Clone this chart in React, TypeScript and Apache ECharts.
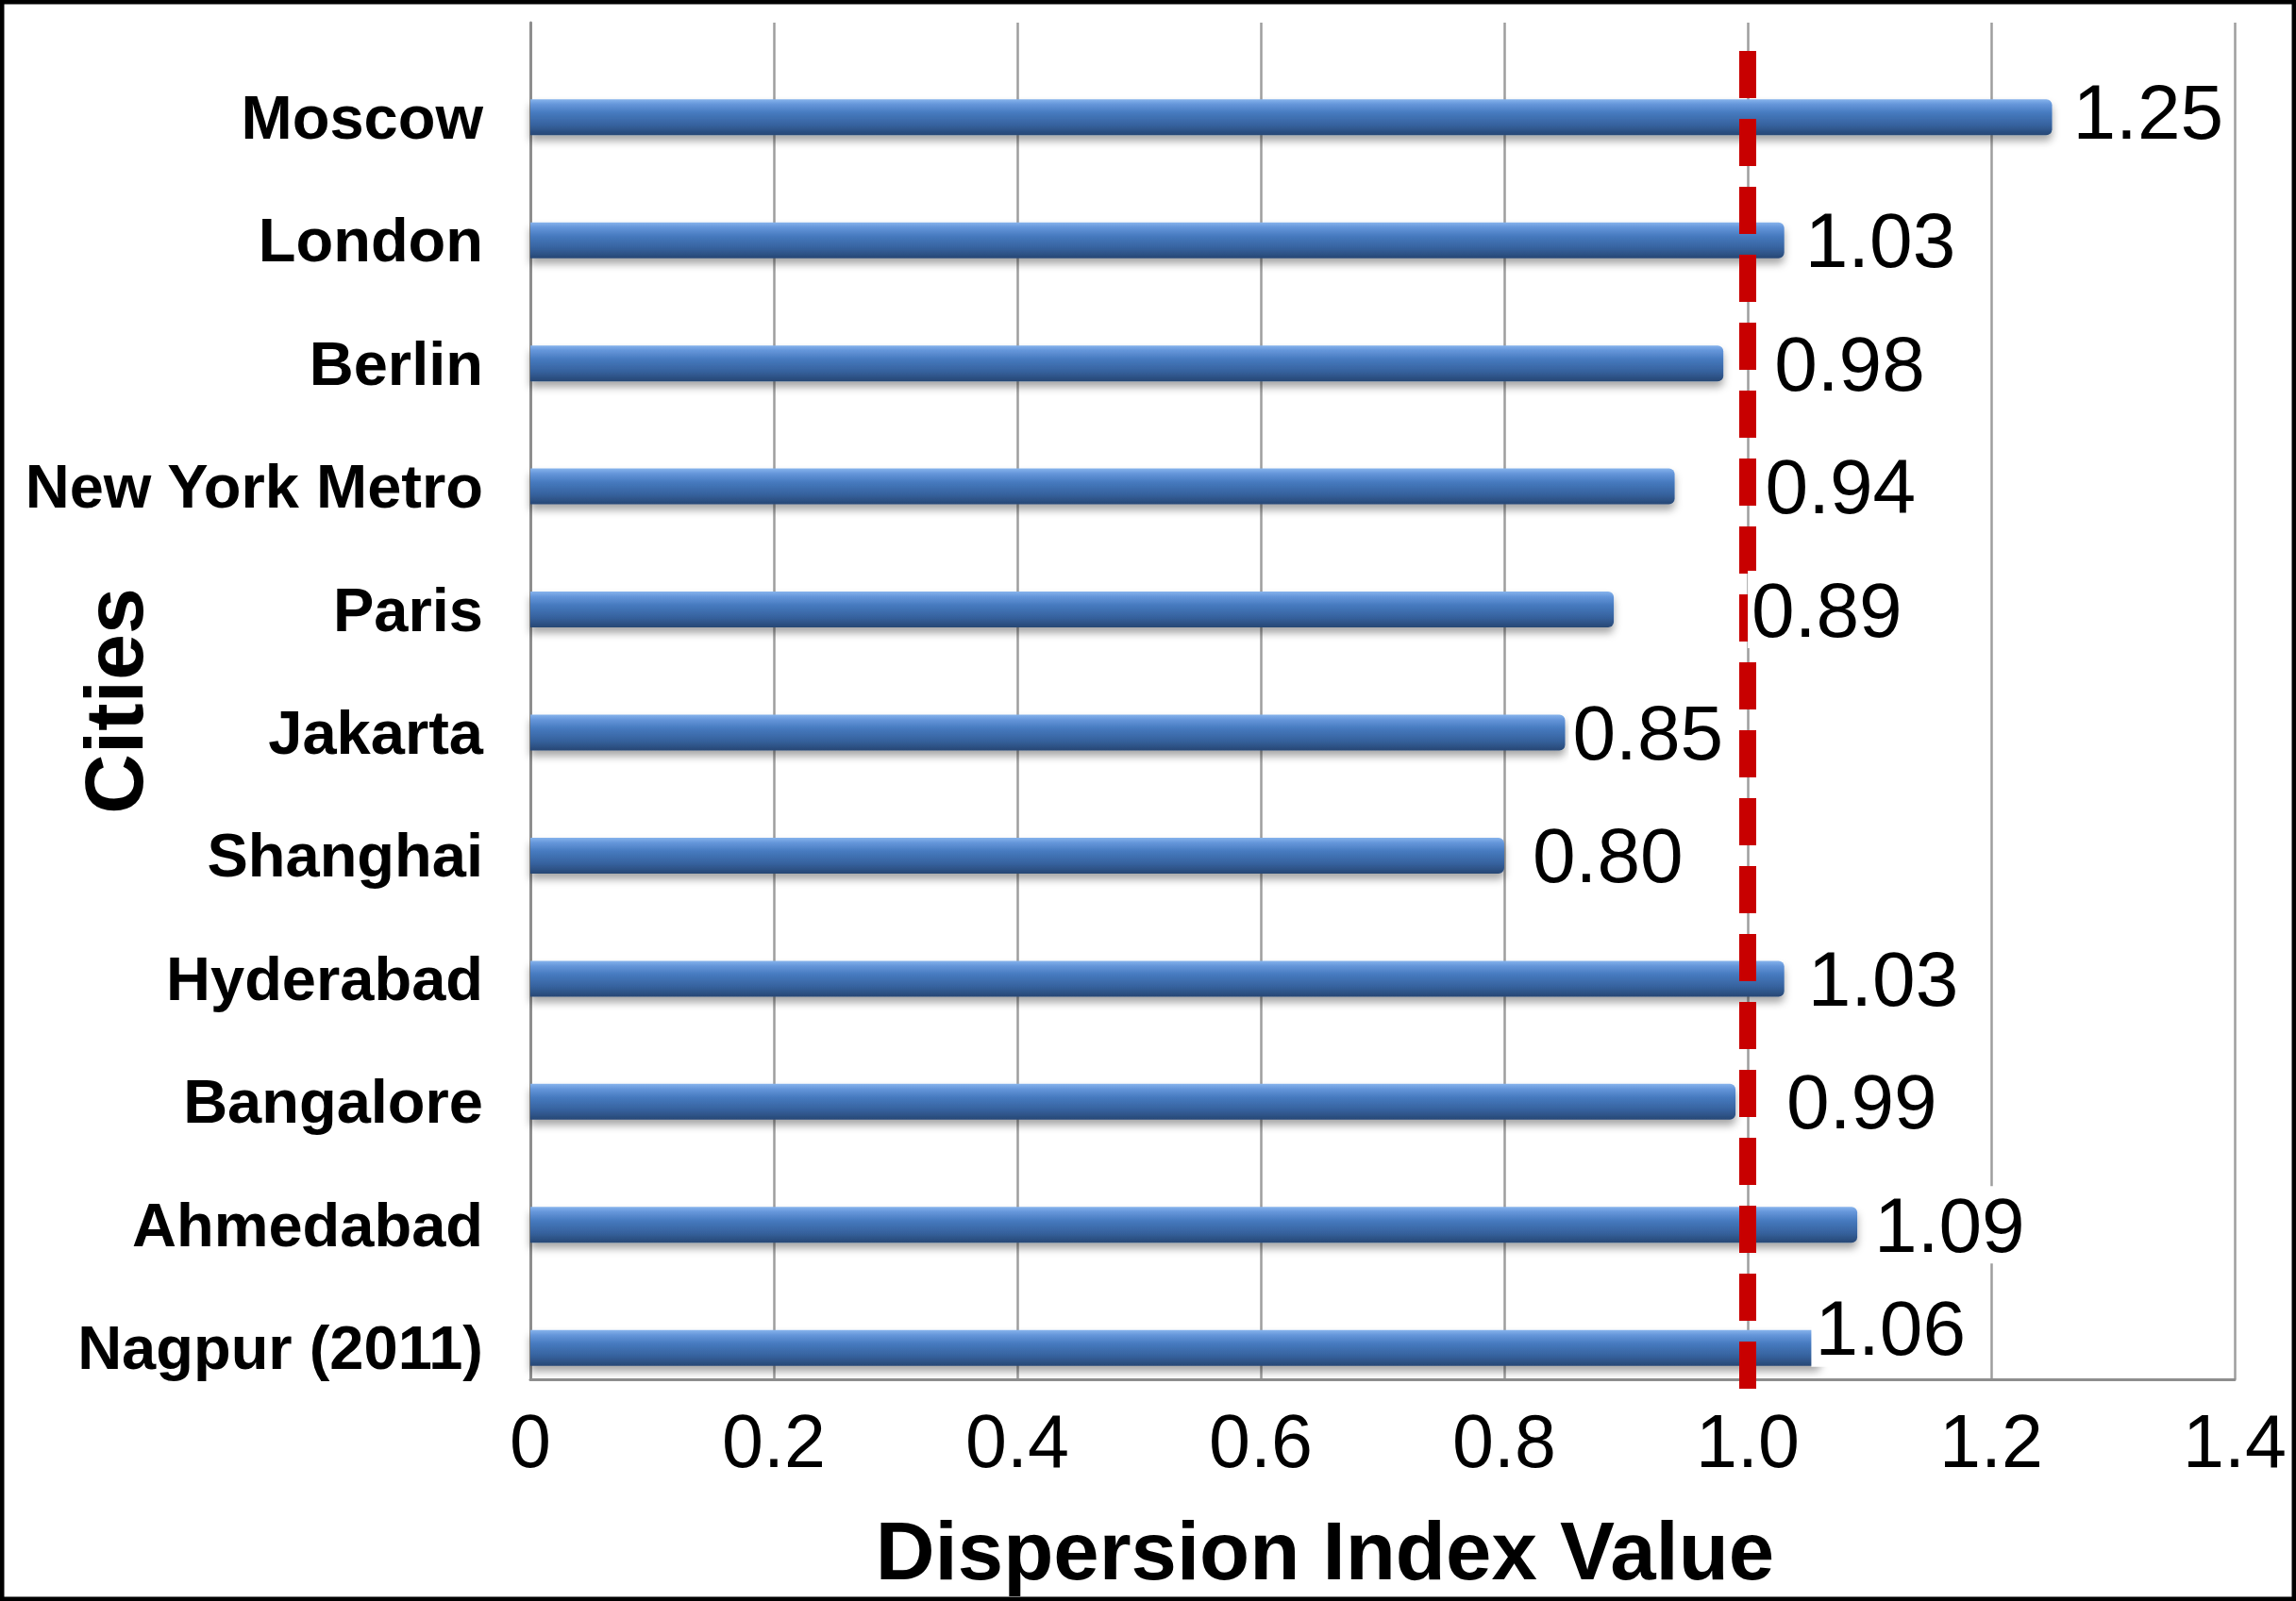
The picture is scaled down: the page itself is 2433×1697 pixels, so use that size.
import React, { useEffect, useRef } from "react";
import * as echarts from "echarts";

const categories = [
  "Moscow",
  "London",
  "Berlin",
  "New York Metro",
  "Paris",
  "Jakarta",
  "Shanghai",
  "Hyderabad",
  "Bangalore",
  "Ahmedabad",
  "Nagpur (2011)",
];
const values = [1.25, 1.03, 0.98, 0.94, 0.89, 0.85, 0.8, 1.03, 0.99, 1.09, 1.06];
const xTickLabels = ["0", "0.2", "0.4", "0.6", "0.8", "1.0", "1.2", "1.4"];
const referenceValue = 1.0;
const xAxisTitle = "Dispersion Index Value";
const yAxisTitle = "Cities";

const FONT = "'Liberation Sans', Arial, Helvetica, sans-serif";

export default function App() {
  const ref = useRef<HTMLDivElement | null>(null);

  useEffect(() => {
    if (!ref.current) return;
    const chart = echarts.init(ref.current, undefined, { renderer: "svg" });

    // label placement nudges (styling only)
    const nudge: Record<string, [number, number]> = {
      Moscow: [18, -6],
      London: [18, 0],
      Berlin: [50, 0],
      "New York Metro": [92, 0],
      Paris: [142, 0],
      Jakarta: [4, 0],
      Shanghai: [26, 0],
      Hyderabad: [21, 0],
      Bangalore: [50, 0],
      Ahmedabad: [14, 0],
      "Nagpur (2011)": [-10, -21],
    };

    const gridSide = { left: 562, right: 65 };
    const axisGray = "#8e8e8e";

    const option: any = {
      animation: false,
      backgroundColor: "#ffffff",
      textStyle: { fontFamily: FONT },
      grid: [
        { ...gridSide, top: 24, bottom: 235 },
        { ...gridSide, top: 59, bottom: 203 },
        { ...gridSide, top: 54, bottom: 214 },
      ],
      xAxis: [
        {
          gridIndex: 0,
          type: "value",
          min: 0,
          max: 1.4,
          interval: 0.2,
          axisLine: { show: true, lineStyle: { color: axisGray, width: 3 } },
          axisTick: { show: false },
          splitLine: { show: true, lineStyle: { color: "#9e9e9e", width: 2.5 } },
          axisLabel: {
            margin: 26,
            fontSize: 79,
            color: "#000",
            fontFamily: FONT,
            formatter: (v: number) => xTickLabels[Math.round(v / 0.2)] ?? String(v),
          },
          name: xAxisTitle,
          nameLocation: "middle",
          nameGap: 138,
          nameTextStyle: {
            fontSize: 87,
            fontWeight: "bold",
            color: "#000",
            fontFamily: FONT,
            padding: [0, 122, 0, 0],
          },
        },
        { gridIndex: 1, type: "value", min: 0, max: 1.4, show: false },
        { gridIndex: 2, type: "value", min: 0, max: 1.4, show: false },
      ],
      yAxis: [
        {
          gridIndex: 0,
          type: "value",
          min: 0,
          max: 1,
          axisLine: { show: true, lineStyle: { color: axisGray, width: 3 } },
          axisTick: { show: false },
          axisLabel: { show: false },
          splitLine: { show: false },
          name: yAxisTitle,
          nameLocation: "middle",
          nameRotate: 90,
          nameGap: 398,
          nameTextStyle: { fontSize: 88, fontWeight: "bold", color: "#000", fontFamily: FONT },
        },
        {
          gridIndex: 1,
          type: "category",
          data: categories,
          inverse: true,
          axisLine: { show: false },
          axisTick: { show: false },
          splitLine: { show: false },
          axisLabel: {
            margin: 50,
            fontSize: 65,
            fontWeight: "bold",
            color: "#000",
            fontFamily: FONT,
          },
        },
        { gridIndex: 2, type: "value", min: 0, max: 1, show: false },
      ],
      series: [
        {
          type: "bar",
          xAxisIndex: 1,
          yAxisIndex: 1,
          data: values,
          barWidth: 38,
          barGap: "-100%",
          z: 2,
          silent: true,
          itemStyle: {
            borderRadius: [0, 6, 6, 0],
            color: new echarts.graphic.LinearGradient(0, 0, 0, 1, [
              { offset: 0, color: "#86b3ec" },
              { offset: 0.14, color: "#6596da" },
              { offset: 0.38, color: "#467abf" },
              { offset: 0.72, color: "#36629e" },
              { offset: 1, color: "#274774" },
            ]),
            shadowColor: "rgba(0,0,0,0.35)",
            shadowBlur: 8,
            shadowOffsetY: 6,
          },
        },
        {
          type: "line",
          xAxisIndex: 2,
          yAxisIndex: 2,
          data: [
            [referenceValue, 1],
            [referenceValue, 0],
          ],
          symbol: "none",
          silent: true,
          z: 3,
          lineStyle: { color: "#c80000", width: 18, type: [50, 22], cap: "butt" },
        },
        {
          type: "bar",
          xAxisIndex: 1,
          yAxisIndex: 1,
          barWidth: 38,
          barGap: "-100%",
          z: 4,
          silent: true,
          itemStyle: { color: "rgba(0,0,0,0)" },
          data: values.map((v, i) => {
            const n = nudge[categories[i]] || [15, 0];
            return {
              value: v,
              label: { distance: n[0], offset: [0, n[1]] },
            };
          }),
          label: {
            show: true,
            position: "right",
            fontSize: 82,
            color: "#000",
            fontFamily: FONT,
            backgroundColor: "#ffffff",
            padding: [0, 4],
            formatter: (p: any) => values[p.dataIndex].toFixed(2),
          },
        },
      ],
      graphic: [
        {
          type: "rect",
          shape: { x: 2, y: 2, width: 2429, height: 1693 },
          style: { fill: "none", stroke: "#000", lineWidth: 5 },
          z: 100,
          silent: true,
        },
      ],
    };

    chart.setOption(option);
    return () => chart.dispose();
  }, []);

  return (
    <div
      ref={ref}
      style={{ position: "fixed", left: 0, top: 0, width: 2433, height: 1697, background: "#fff" }}
    />
  );
}
